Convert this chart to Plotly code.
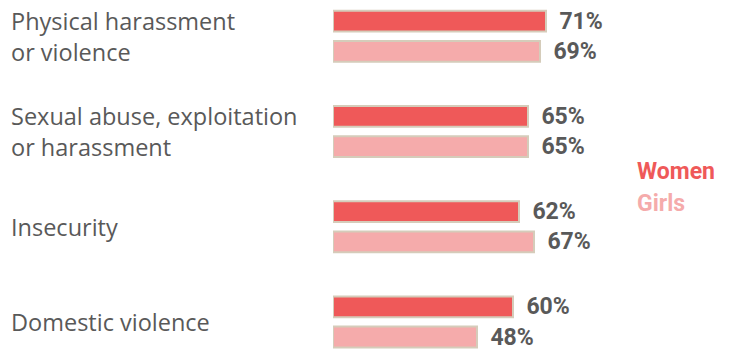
import plotly.graph_objects as go

categories = ["Physical harassment<br>or violence",
              "Sexual abuse, exploitation<br>or harassment",
              "Insecurity",
              "Domestic violence"]
series_names = ["Women", "Girls"]
women = [71, 65, 62, 60]
girls = [69, 65, 67, 48]

colors = {"Women": "#EF5959", "Girls": "#F5ABAB"}
border = "#D5CCBA"
label_font = dict(family="Roboto", size=23, color="#595959")

fig = go.Figure()
for name, vals in zip(series_names, [women, girls]):
    fig.add_trace(go.Bar(
        name=name, orientation="h", y=categories, x=vals,
        marker=dict(color=colors[name], line=dict(color=border, width=2)),
        text=[f"\u00a0\u2009<b>{v}%</b>" for v in vals], textposition="outside",
        textfont=label_font, constraintext="none", cliponaxis=False,
        hoverinfo="skip",
    ))

for c in categories:
    fig.add_annotation(text=c, xref="paper", yref="y", x=-0.812, y=c,
                       xanchor="left", yanchor="middle", align="left",
                       showarrow=False,
                       font=dict(family="Open Sans", size=23.5, color="#595959"))

for name, yp in zip(series_names, [0.508, 0.418]):
    fig.add_annotation(text=f"<b>{name}</b>", xref="paper", yref="paper",
                       x=0.757, y=yp, xanchor="left", yanchor="middle",
                       showarrow=False,
                       font=dict(family="Roboto", size=23,
                                 color=colors[name]))

fig.update_layout(
    width=732, height=349, margin=dict(l=333, r=0, t=0, b=0),
    paper_bgcolor="white", plot_bgcolor="white",
    barmode="group", bargap=0.368, bargroupgap=0.31,
    showlegend=False,
    xaxis=dict(range=[0, 133], visible=False, fixedrange=True),
    yaxis=dict(range=[3.284, -0.381], type="category", showticklabels=False,
               showgrid=False, zeroline=False, showline=False, ticks=""),
)
fig.write_html("out.html")
